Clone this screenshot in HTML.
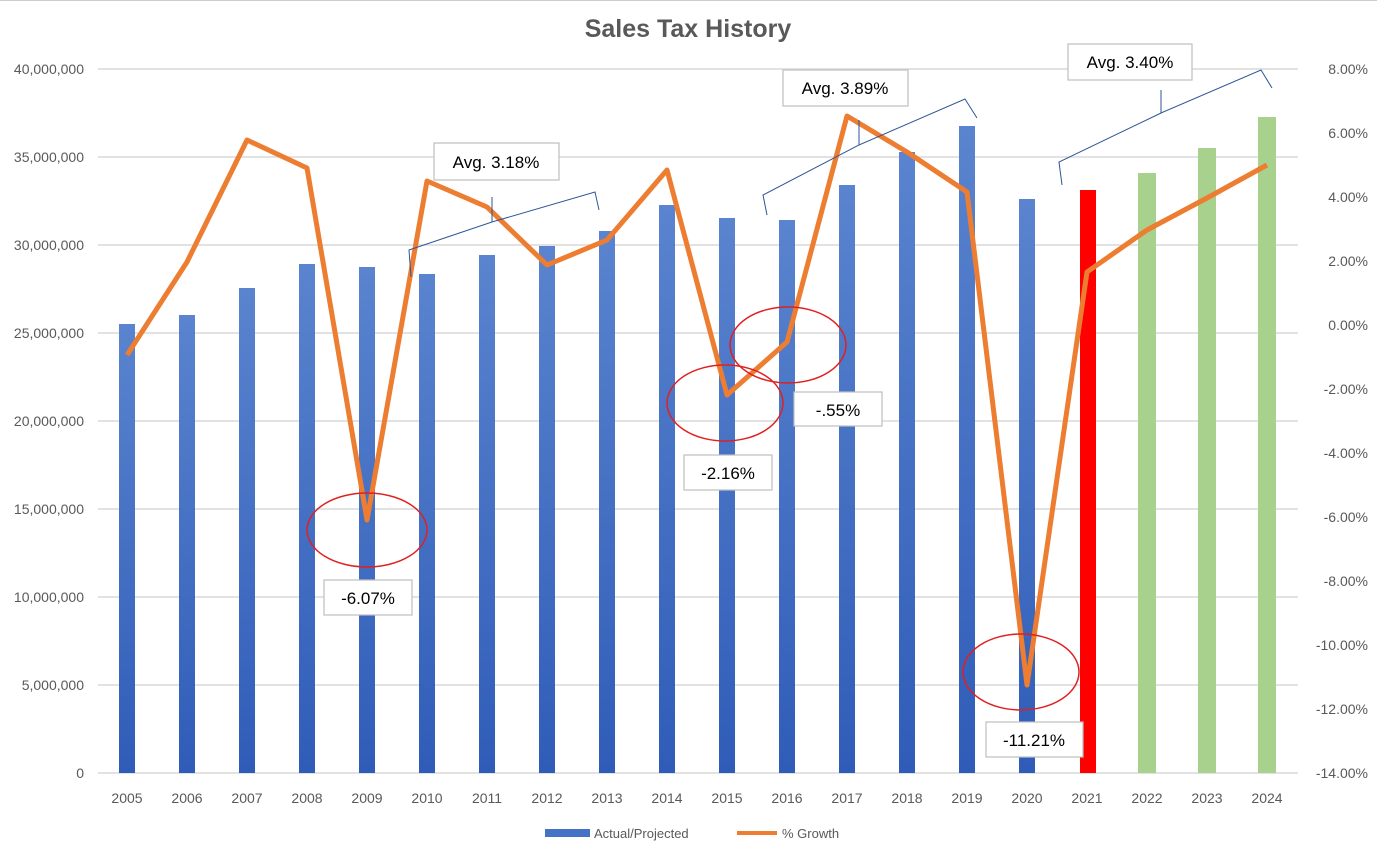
<!DOCTYPE html>
<html><head><meta charset="utf-8"><style>
body{margin:0;background:#fff;}
svg{display:block;font-family:"Liberation Sans",sans-serif;}
</style></head><body>
<svg width="1377" height="850" viewBox="0 0 1377 850">
<defs>
<linearGradient id="bl" x1="0" y1="0" x2="0" y2="1">
<stop offset="0" stop-color="#5A84CF"/><stop offset="1" stop-color="#2F5CB8"/>
</linearGradient>
</defs>
<rect width="1377" height="850" fill="#fff"/>
<line x1="0" y1="0.5" x2="1377" y2="0.5" stroke="#ccc"/>
<text x="688" y="37" text-anchor="middle" font-size="25" font-weight="bold" fill="#595959">Sales Tax History</text>
<g stroke="#d9d9d9" stroke-width="1.5">
<line x1="98" y1="69" x2="1298" y2="69"/><line x1="98" y1="157" x2="1298" y2="157"/>
<line x1="98" y1="245" x2="1298" y2="245"/><line x1="98" y1="333" x2="1298" y2="333"/>
<line x1="98" y1="421" x2="1298" y2="421"/><line x1="98" y1="509" x2="1298" y2="509"/>
<line x1="98" y1="597" x2="1298" y2="597"/><line x1="98" y1="685" x2="1298" y2="685"/>
<line x1="98" y1="773" x2="1298" y2="773"/>
</g>
<g font-size="14" fill="#595959" text-anchor="end">
<text x="84" y="74">40,000,000</text><text x="84" y="162">35,000,000</text>
<text x="84" y="250">30,000,000</text><text x="84" y="338">25,000,000</text>
<text x="84" y="426">20,000,000</text><text x="84" y="514">15,000,000</text>
<text x="84" y="602">10,000,000</text><text x="84" y="690">5,000,000</text>
<text x="84" y="778">0</text>
</g>
<g font-size="14" fill="#595959" text-anchor="end">
<text x="1368" y="74">8.00%</text><text x="1368" y="138">6.00%</text>
<text x="1368" y="202">4.00%</text><text x="1368" y="266">2.00%</text>
<text x="1368" y="330">0.00%</text><text x="1368" y="394">-2.00%</text>
<text x="1368" y="458">-4.00%</text><text x="1368" y="522">-6.00%</text>
<text x="1368" y="586">-8.00%</text><text x="1368" y="650">-10.00%</text>
<text x="1368" y="714">-12.00%</text><text x="1368" y="778">-14.00%</text>
</g>
<g fill="url(#bl)">
<rect x="119" y="324" width="16" height="449"/><rect x="179" y="315" width="16" height="458"/>
<rect x="239" y="288" width="16" height="485"/><rect x="299" y="264" width="16" height="509"/>
<rect x="359" y="267" width="16" height="506"/><rect x="419" y="274" width="16" height="499"/>
<rect x="479" y="255" width="16" height="518"/><rect x="539" y="246" width="16" height="527"/>
<rect x="599" y="231" width="16" height="542"/><rect x="659" y="205" width="16" height="568"/>
<rect x="719" y="218" width="16" height="555"/><rect x="779" y="220" width="16" height="553"/>
<rect x="839" y="185" width="16" height="588"/><rect x="899" y="152" width="16" height="621"/>
<rect x="959" y="126" width="16" height="647"/><rect x="1019" y="199" width="16" height="574"/>
</g>
<rect x="1080" y="190" width="16" height="583" fill="#FF0000"/>
<g fill="#A9D18E">
<rect x="1138" y="173" width="18" height="600"/><rect x="1198" y="148" width="18" height="625"/>
<rect x="1258" y="117" width="18" height="656"/>
</g>
<g font-size="14" fill="#595959" text-anchor="middle">
<text x="127" y="803">2005</text><text x="187" y="803">2006</text><text x="247" y="803">2007</text>
<text x="307" y="803">2008</text><text x="367" y="803">2009</text><text x="427" y="803">2010</text>
<text x="487" y="803">2011</text><text x="547" y="803">2012</text><text x="607" y="803">2013</text>
<text x="667" y="803">2014</text><text x="727" y="803">2015</text><text x="787" y="803">2016</text>
<text x="847" y="803">2017</text><text x="907" y="803">2018</text><text x="967" y="803">2019</text>
<text x="1027" y="803">2020</text><text x="1087" y="803">2021</text><text x="1147" y="803">2022</text>
<text x="1207" y="803">2023</text><text x="1267" y="803">2024</text>
</g>
<polyline fill="none" stroke="#ED7D31" stroke-width="5" stroke-linejoin="round" points="127,355 187,262 247,140 307,168 367,520 427,181 487,207 547,265 607,240 667,170 727,395 787,342 847,116 907,152 967,192 1027,685 1087,272 1147,230 1207,198 1267,165"/>
<g fill="none" stroke="#2F5597" stroke-width="1">
<path d="M411,277 L409,250 L492,222 L492,197 L492,222 L595,192 L599,210"/>
<path d="M767,215 L763,195 L859,145 L859,120 L859,145 L965,99 L977,118"/>
<path d="M1062,185 L1059,162 L1161,113 L1161,90 L1161,113 L1261,70 L1272,88"/>
</g>
<g fill="none" stroke="#E02020" stroke-width="1.5">
<ellipse cx="367" cy="530" rx="60" ry="37"/><ellipse cx="725" cy="403" rx="58" ry="38"/>
<ellipse cx="788" cy="345" rx="58" ry="38"/><ellipse cx="1021" cy="672" rx="58" ry="38"/>
</g>
<g fill="#fff" stroke="#BFBFBF" stroke-width="1.2">
<rect x="434" y="143" width="125" height="37"/><rect x="783" y="70" width="125" height="36"/>
<rect x="1068" y="44" width="124" height="36"/><rect x="324" y="580" width="88" height="35"/>
<rect x="684" y="455" width="88" height="35"/><rect x="794" y="392" width="88" height="34"/>
<rect x="986" y="722" width="97" height="35"/>
</g>
<g font-size="17" fill="#000" text-anchor="middle">
<text x="496" y="168">Avg. 3.18%</text><text x="845" y="94">Avg. 3.89%</text>
<text x="1130" y="68">Avg. 3.40%</text><text x="368" y="604">-6.07%</text>
<text x="728" y="479">-2.16%</text><text x="838" y="416">-.55%</text>
<text x="1034" y="746">-11.21%</text>
</g>
<rect x="545" y="829" width="45" height="8" fill="#4472C4"/>
<text x="594" y="838" font-size="13" fill="#595959">Actual/Projected</text>
<line x1="737" y1="833" x2="777" y2="833" stroke="#ED7D31" stroke-width="4"/>
<text x="782" y="838" font-size="13" fill="#595959">% Growth</text>
</svg>
</body></html>
